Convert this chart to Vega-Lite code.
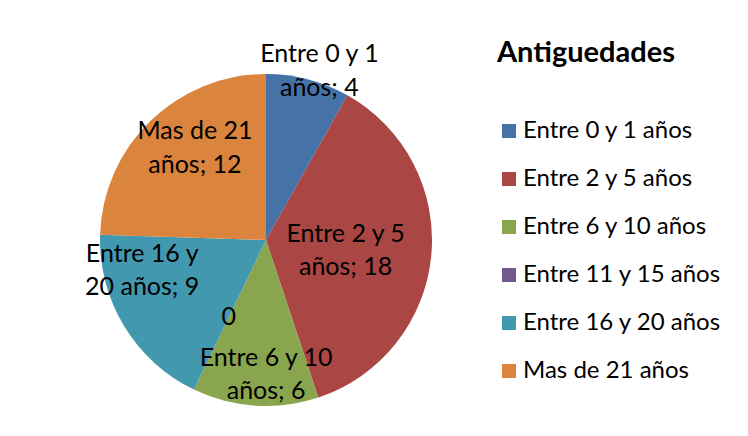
{
  "$schema": "https://vega.github.io/schema/vega-lite/v6.json",
  "width": 332,
  "height": 332,
  "autosize": {"type": "none"},
  "padding": {"left": 100, "top": 74, "right": 316, "bottom": 30},
  "background": "white",
  "config": {
    "view": {"stroke": null},
    "font": "Lato",
    "text": {"font": "Lato"}
  },
  "data": {
    "values": [
      {"k": 1, "cat": "Entre 0 y 1 años", "n": 4, "label": "Entre 0 y 1\naños; 4"},
      {"k": 2, "cat": "Entre 2 y 5 años", "n": 18, "label": "Entre 2 y 5\naños; 18"},
      {"k": 3, "cat": "Entre 6 y 10 años", "n": 6, "label": "Entre 6 y 10\naños; 6"},
      {"k": 4, "cat": "Entre 11 y 15 años", "n": 0, "label": "0"},
      {"k": 5, "cat": "Entre 16 y 20 años", "n": 9, "label": "Entre 16 y\n20 años; 9"},
      {"k": 6, "cat": "Mas de 21 años", "n": 12, "label": "Mas de 21\naños; 12"}
    ]
  },
  "encoding": {
    "theta": {"field": "n", "type": "quantitative", "stack": true},
    "order": {"field": "k", "type": "quantitative"}
  },
  "layer": [
    {
      "mark": {"type": "arc", "outerRadius": 166},
      "encoding": {
        "color": {
          "field": "cat",
          "type": "nominal",
          "sort": ["Entre 0 y 1 años", "Entre 2 y 5 años", "Entre 6 y 10 años", "Entre 11 y 15 años", "Entre 16 y 20 años", "Mas de 21 años"],
          "scale": {
            "domain": ["Entre 0 y 1 años", "Entre 2 y 5 años", "Entre 6 y 10 años", "Entre 11 y 15 años", "Entre 16 y 20 años", "Mas de 21 años"],
            "range": ["#4572A7", "#AA4643", "#89A54E", "#71588F", "#4198AF", "#DB843D"]
          },
          "legend": {
            "title": "Antiguedades",
            "orient": "none",
            "legendX": 397,
            "legendY": -35,
            "titleFont": "Lato",
            "titleFontSize": 29,
            "titleFontWeight": "bold",
            "titleColor": "black",
            "titlePadding": 51,
            "labelFont": "Lato",
            "labelFontSize": 24,
            "labelColor": "black",
            "labelOffset": 2,
            "symbolType": "square",
            "symbolSize": 196,
            "symbolStrokeWidth": 0,
            "rowPadding": 24,
            "labelLimit": 300
          }
        }
      }
    },
    {
      "mark": {"type": "text", "radius": 177, "fontSize": 25, "lineBreak": "\n", "lineHeight": 34, "color": "black", "baseline": "middle", "dy": -17, "thetaOffset": 0.05},
      "encoding": {
        "text": {"condition": {"test": "datum.cat === 'Entre 0 y 1 años'", "field": "label"}, "value": ""}
      }
    },
    {
      "mark": {"type": "text", "radius": 80, "fontSize": 25, "lineBreak": "\n", "lineHeight": 33, "color": "black", "baseline": "middle", "dy": -14},
      "encoding": {
        "text": {"condition": {"test": "datum.cat === 'Entre 2 y 5 años'", "field": "label"}, "value": ""}
      }
    },
    {
      "mark": {"type": "text", "radius": 86, "fontSize": 25, "color": "black", "baseline": "middle"},
      "encoding": {
        "text": {"condition": {"test": "datum.cat === 'Entre 11 y 15 años'", "field": "label"}, "value": ""}
      }
    },
    {
      "mark": {"type": "text", "radius": 116, "fontSize": 25, "lineBreak": "\n", "lineHeight": 34, "color": "black", "baseline": "middle", "dy": -17, "thetaOffset": 0.11},
      "encoding": {
        "text": {"condition": {"test": "datum.cat === 'Mas de 21 años'", "field": "label"}, "value": ""}
      }
    },
    {
      "mark": {"type": "text", "radius": 134, "fontSize": 25, "lineBreak": "\n", "lineHeight": 33, "color": "black", "baseline": "middle", "dy": -16, "thetaOffset": -0.065},
      "encoding": {
        "text": {"condition": {"test": "datum.cat === 'Entre 6 y 10 años'", "field": "label"}, "value": ""}
      }
    },
    {
      "mark": {"type": "text", "radius": 127, "fontSize": 25, "lineBreak": "\n", "lineHeight": 33, "color": "black", "baseline": "middle", "dy": -14, "thetaOffset": 0.32},
      "encoding": {
        "text": {"condition": {"test": "datum.cat === 'Entre 16 y 20 años'", "field": "label"}, "value": ""}
      }
    }
  ]
}
